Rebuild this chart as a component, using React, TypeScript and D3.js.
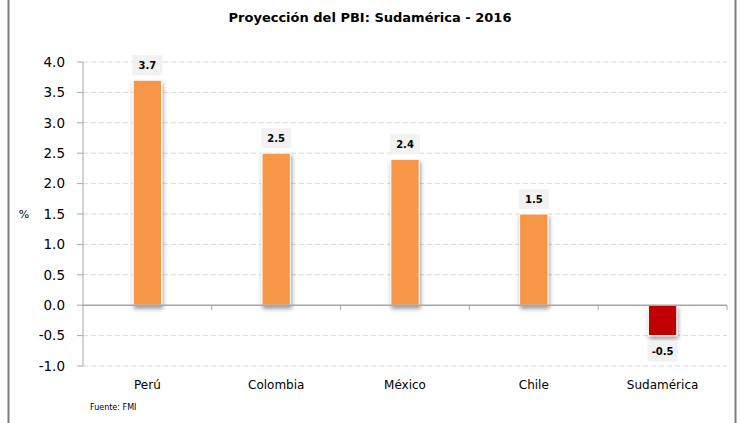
import React from 'react';
import * as d3 from 'd3';

const title = 'Proyección  del PBI: Sudamérica - 2016';
const categories = ['Perú', 'Colombia', 'México', 'Chile', 'Sudamérica'];
const values = [3.7, 2.5, 2.4, 1.5, -0.5];
const yTicks = [-1.0, -0.5, 0.0, 0.5, 1.0, 1.5, 2.0, 2.5, 3.0, 3.5, 4.0];
const source = 'Fuente:  FMI';

const W = 740;
const H = 423;
const font = '"DejaVu Sans", Verdana, sans-serif';
// excel-style labels use a plain hyphen, not d3's unicode minus
const fmt = (v: number) => d3.format('.1f')(v).replace('\u2212', '-');

const App: React.FC = () => {
  const margin = { left: 83, right: 13, top: 62, bottom: 57 };
  const x = d3
    .scaleBand<string>()
    .domain(categories)
    .range([margin.left, W - margin.right])
    .paddingInner(0.78)
    .paddingOuter(0.39);
  const y = d3.scaleLinear().domain([-1, 4]).range([H - margin.bottom, margin.top]);
  const step = (W - margin.right - margin.left) / categories.length;

  return (
    <svg width={W} height={H} style={{ position: 'absolute', left: 0, top: 0 }}>
      <defs>
        <filter id="shadow" x="-30%" y="-10%" width="160%" height="130%">
          <feDropShadow dx="1" dy="3" stdDeviation="2" floodColor="#000" floodOpacity="0.4" />
        </filter>
      </defs>
      <rect x={0} y={0} width={W} height={H} fill="#fff" />
      <line x1={8.5} x2={8.5} y1={0} y2={H} stroke="#7f7f7f" strokeWidth={2} />
      <line x1={735.5} x2={735.5} y1={0} y2={H} stroke="#7f7f7f" strokeWidth={2} />

      <text x={370} y={22} textAnchor="middle" fontFamily={font} fontWeight="bold" fontSize={13} fill="#000">
        {title}
      </text>

      {/* grid + y ticks */}
      {yTicks.map((t) => (
        <g key={t}>
          {t !== 0 && (
            <line
              x1={margin.left}
              x2={W - margin.right}
              y1={y(t)}
              y2={y(t)}
              stroke="#d9d9d9"
              strokeDasharray="5,3"
            />
          )}
          <line x1={margin.left - 6} x2={margin.left} y1={y(t)} y2={y(t)} stroke="#a6a6a6" />
          <text
            x={margin.left - 18}
            y={y(t)}
            dy="0.36em"
            textAnchor="end"
            fontFamily={font}
            fontSize={13.5}
            fill="#000"
          >
            {fmt(t)}
          </text>
        </g>
      ))}
      <text x={24} y={214} dy="0.35em" textAnchor="middle" fontFamily={font} fontSize={11}>
        %
      </text>

      {/* bars */}
      {categories.map((c, i) => {
        const v = values[i];
        const y0 = y(Math.max(0, v));
        const h = Math.abs(y(v) - y(0));
        return (
          <rect
            key={c}
            x={x(c)}
            y={y0}
            width={x.bandwidth()}
            height={h}
            fill={v < 0 ? '#c00000' : '#f79646'}
            stroke="#fff"
            strokeWidth={1}
            filter="url(#shadow)"
          />
        );
      })}

      {/* axes */}
      <line x1={margin.left} x2={margin.left} y1={y(4)} y2={y(-1)} stroke="#a6a6a6" />
      <line x1={margin.left} x2={W - margin.right} y1={y(0)} y2={y(0)} stroke="#a6a6a6" strokeWidth={1.5} />
      {categories.map((c, i) => (
        <line
          key={c}
          x1={margin.left + step * (i + 1)}
          x2={margin.left + step * (i + 1)}
          y1={y(0)}
          y2={y(0) + 5}
          stroke="#a6a6a6"
        />
      ))}

      {/* data labels */}
      {categories.map((c, i) => {
        const v = values[i];
        const cx = (x(c) ?? 0) + x.bandwidth() / 2;
        const cy = v >= 0 ? y(v) - 15 : y(v) + 16;
        return (
          <g key={c}>
            <rect x={cx - 15} y={cy - 10} width={30} height={20} fill="#f2f2f2" />
            <text x={cx} y={cy} dy="0.36em" textAnchor="middle" fontFamily={font} fontWeight="bold" fontSize={10}>
              {fmt(v)}
            </text>
          </g>
        );
      })}

      {/* category labels */}
      {categories.map((c) => (
        <text
          key={c}
          x={(x(c) ?? 0) + x.bandwidth() / 2}
          y={385}
          dy="0.36em"
          textAnchor="middle"
          fontFamily={font}
          fontSize={12}
        >
          {c}
        </text>
      ))}

      <text x={90} y={407} dy="0.35em" fontFamily={font} fontSize={8}>
        {source}
      </text>
    </svg>
  );
};

export default App;
